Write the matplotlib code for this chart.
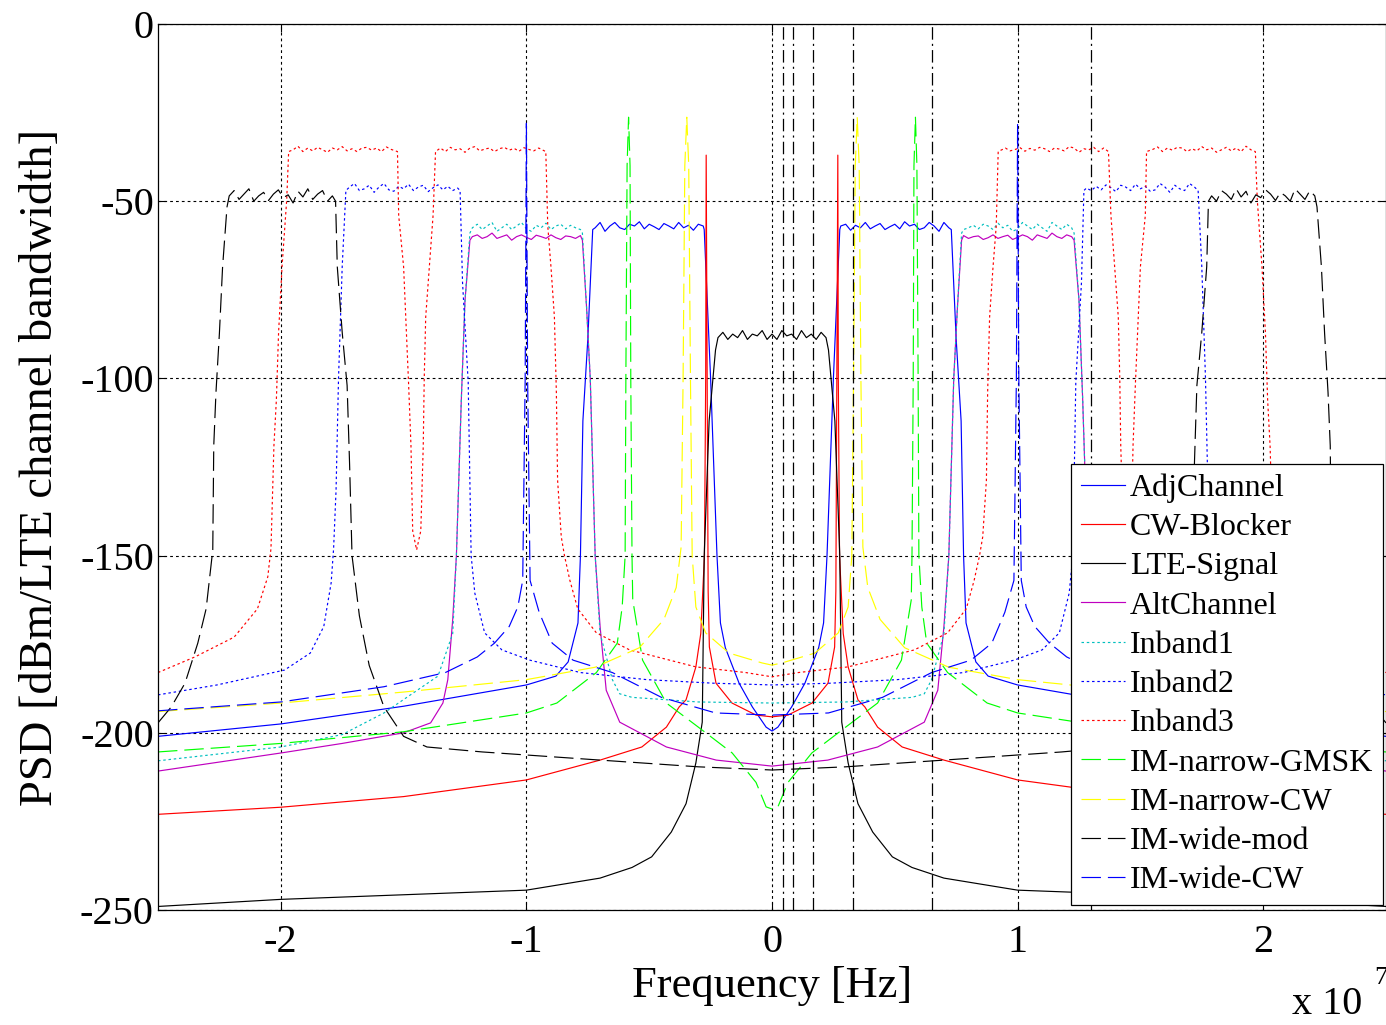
import numpy as np
import matplotlib
matplotlib.use('Agg')
import matplotlib.pyplot as plt

plt.rcParams['font.family'] = ['Liberation Serif', 'DejaVu Serif']
plt.rcParams['axes.unicode_minus'] = False
plt.rcParams['lines.scale_dashes'] = False

# Frequencies in MHz, PSD in dBm/LTE channel bandwidth.

# LTE-Signal
lte_f = [-25, -20, -10, -7.0, -5.7, -4.9, -4.1, -3.5, -3.1, -2.84, -2.76, -2.56, -2.3, -2.2,
         -2.0, -1.8, -1.6, -1.4, -1.2, -1.0, -0.8, -0.6, -0.4, -0.2, 0]
lte_p = [-249, -247, -244.4, -241, -238, -235, -228, -220, -208.5, -197, -150, -112, -92, -88.5,
         -87, -89, -87.5, -88.5, -86.5, -89, -87.5, -88, -86.5, -89, -87.5]

# CW-Blocker
cw_f = [-25, -20, -15, -10, -7.0, -5.3, -4.3, -3.78, -3.5, -3.1, -2.9, -2.75, -2.70, -2.68,
        -2.64, -2.60, -2.55, -2.28, -1.63, -0.65, 0]
cw_p = [-223, -221, -218, -213.3, -207.7, -204, -198.4, -192.7, -190.7, -181.4, -172, -150, -100, -37,
        -100, -160, -175.8, -186, -191.6, -195, -195.5]

# AdjChannel
adj_f = [-25, -20, -15, -10, -8.8, -8.3, -7.9, -7.8, -7.7, -7.5, -7.3,
         -7.2, -7.0, -6.8, -6.6, -6.4, -6.2, -6.0, -5.8, -5.6, -5.4, -5.2, -5.0,
         -4.8, -4.6, -4.4, -4.2, -4.0, -3.8, -3.6, -3.4, -3.2, -3.0, -2.8,
         -2.76, -2.5, -2.24, -2.1, -1.9, -1.34, -0.8, -0.24, 0]
adj_p = [-201, -197.5, -192.5, -186.5, -184, -180, -169, -150, -112, -89, -58,
         -57.5, -56, -58.5, -57, -56, -57.5, -58, -56.5, -57, -55.8, -57.8, -56.5,
         -57.2, -58, -56.3, -57, -57.8, -56, -57.5, -56.8, -58.2, -56.5, -57,
         -58, -100, -150, -169, -176, -186, -192.7, -198.4, -199.5]

# AltChannel
alt_f = [-25, -20, -17.5, -15, -13.9, -13.4, -13.2, -13.0, -12.85, -12.65, -12.5, -12.3,
         -12.2, -12.0, -11.8, -11.6, -11.4, -11.2, -11.0, -10.8, -10.6, -10.4, -10.2, -10.0,
         -9.8, -9.6, -9.4, -9.2, -9.0, -8.8, -8.6, -8.4, -8.2, -8.0, -7.8,
         -7.72, -7.55, -7.4, -7.2, -7.0, -6.75, -6.2, -4.3, -2.27, 0]
alt_p = [-210.8, -205.7, -203, -200, -197.2, -191.6, -185, -168, -150, -106, -78, -61,
         -60, -59.5, -60.5, -60, -59, -60.5, -60, -59.5, -61, -60, -59.5, -60.2,
         -60.8, -59.6, -60, -60.5, -59.5, -60.3, -60.8, -59.8, -60, -60.5, -59.7,
         -61, -80, -100, -150, -170, -188, -197, -204, -207.7, -209.4]

# Inband1
in1_f = [-25, -20, -17.5, -15.8, -13.6, -13.0, -12.85, -12.65, -12.5, -12.3,
         -12.2, -12.0, -11.8, -11.6, -11.4, -11.2, -11.0, -10.8, -10.6, -10.4, -10.2, -10.0,
         -9.8, -9.6, -9.4, -9.2, -9.0, -8.8, -8.6, -8.4, -8.2, -8.0, -7.8,
         -7.72, -7.55, -7.4, -7.2, -7.0, -6.5, -6.2, -5.7, -3.0, 0]
in1_p = [-207.9, -204, -200.5, -194.4, -184, -172, -150, -106, -78, -59,
         -57.5, -56.5, -58, -57, -56, -58.5, -57.5, -56.5, -58, -57, -56, -57.8,
         -58.5, -56.8, -57.5, -56.2, -58, -57, -56.5, -57.8, -56.8, -57.5, -58,
         -59, -80, -100, -150, -172, -185, -189, -190, -191.3, -191.6]

# Inband2
in2_f = [-25, -22.6, -19.85, -18.8, -18.25, -17.95, -17.85, -17.75, -17.65, -17.5, -17.35,
         -17.2, -17.0, -16.8, -16.6, -16.4, -16.2, -16.0, -15.8, -15.6, -15.4, -15.2, -15.0,
         -14.8, -14.6, -14.4, -14.2, -14.0, -13.8, -13.6, -13.4, -13.2, -13.0, -12.8,
         -12.7, -12.6, -12.37, -12.25, -12.1, -11.7, -11.0, -9.86, -7.8, -5.1, -2.4, 0]
in2_p = [-189.3, -186.5, -182.3, -177.5, -170, -157.7, -148, -131.5, -100, -68.5, -47,
         -46, -45, -47, -46.5, -45.5, -47.5, -46, -45, -46.8, -47.2, -45.8, -46.5,
         -45.2, -47, -46, -45.5, -47.3, -46.2, -45.4, -46.8, -45.8, -47, -46.3,
         -47, -73, -101, -150, -160.6, -171.8, -176.6, -179.5, -183, -185, -186, -186.5]

# Inband3 (two blocks per side)
in3_f = [-25, -23.5, -21.9, -20.95, -20.53, -20.4, -20.28, -20.18, -20.09, -19.95, -19.76, -19.68,
         -19.5, -19.3, -19.1, -18.9, -18.7, -18.5, -18.3, -18.1, -17.9, -17.7, -17.5,
         -17.3, -17.1, -16.9, -16.7, -16.5, -16.3, -16.1, -15.9, -15.7, -15.5,
         -15.25, -15.2, -15.0, -14.8, -14.7, -14.63, -14.47, -14.3, -14.2, -14.16, -14.1, -13.8, -13.7,
         -13.5, -13.3, -13.1, -12.9, -12.7, -12.5, -12.3, -12.1, -11.9, -11.7, -11.5,
         -11.3, -11.1, -10.9, -10.7, -10.5, -10.3, -10.1, -9.9, -9.7, -9.5,
         -9.21, -9.13, -9.0, -8.86, -8.78, -8.73, -8.58, -8.45, -8.23, -7.91, -7.15, -5.8, -3.1, -1.07, 0]
in3_p = [-183, -178.6, -173, -165, -156, -148, -119, -106, -87, -68.5, -49.7, -36,
         -35.5, -34.5, -36, -35, -35.8, -34.8, -35.5, -36.2, -35, -35.5, -34.6,
         -35.8, -35.2, -36, -35, -34.8, -35.6, -35, -36, -34.7, -35.4,
         -36, -54, -68.5, -101, -119, -143, -148.4, -143, -119, -100, -82.7, -54, -36,
         -35, -36, -34.8, -35.5, -35.2, -36.2, -35, -34.6, -35.8, -35.3, -35,
         -36, -35.2, -34.8, -35.6, -35.1, -35.9, -34.9, -35.4, -35.8, -35,
         -36, -57, -68.5, -82.7, -104, -128.7, -144.7, -150, -157, -165, -171.8, -176.6, -181.4, -183, -184.2]

# IM-narrow-GMSK
gm_f = [-25, -20, -15, -10, -8.76, -7.15, -6.3, -6.1, -5.98, -5.95, -5.9, -5.84,
        -5.78, -5.75, -5.70, -5.67, -5.27, -4.3, -3.0, -1.62, -0.65, -0.24, 0]
gm_p = [-205.4, -203, -199.7, -194.4, -191.6, -183, -174.7, -164.5, -150, -100, -40, -26.3,
        -40, -100, -150, -162.5, -179.5, -191.6, -198.4, -205.7, -214, -220.9, -221.5]

# IM-narrow-CW
ncw_f = [-25, -20, -15, -10, -7.2, -5.4, -4.4, -3.9, -3.7, -3.62, -3.55, -3.47,
         -3.39, -3.32, -3.25, -3.1, -2.7, -1.75, -0.4, 0]
ncw_p = [-194, -191.6, -188.5, -185, -181.5, -176, -168, -159, -147.6, -100, -40, -26.3,
         -40, -100, -150, -164.5, -171.8, -177.5, -180.3, -180.9]

# IM-wide-mod
wm_f = [-25, -24.46, -23.9, -23.38, -23.04, -22.77, -22.73, -22.64, -22.5, -22.37, -22.19, -22.1,
        -21.9, -21.7, -21.5, -21.3, -21.1, -20.9, -20.7, -20.5, -20.3, -20.1, -19.9,
        -19.7, -19.5, -19.3, -19.1, -18.9, -18.7, -18.5, -18.3, -18.1, -17.9,
        -17.77, -17.7, -17.5, -17.3, -17.2, -17.1, -16.8, -16.4, -15.8, -15.0, -14.05, -11.8, -7.0, -3.0, 0]
wm_p = [-197.2, -192.7, -186, -174.7, -165, -148.4, -119, -104, -87.3, -68.5, -51.6, -48.5,
        -47, -49.5, -48, -46.5, -50, -48.5, -47.5, -49.8, -48, -46.8, -49,
        -48.2, -50.5, -47.2, -48.8, -46.5, -49.5, -48, -47, -50, -48.5,
        -50, -68.5, -87, -102, -124, -150, -167, -181, -192.7, -201, -204, -205.4, -207.7, -209.6, -210.5]

# IM-wide-CW
wcw_f = [-25, -20, -15.8, -13.3, -12.0, -11.3, -10.7, -10.35, -10.15, -10.05, -10.0,
         -9.95, -9.85, -9.48, -8.95, -8.1, -6.5, -4.5, -2.3, 0]
wcw_p = [-193.8, -191.3, -187, -183, -178.6, -174.7, -170, -164.5, -157, -100, -28,
         -100, -157, -166, -174.7, -179.5, -183, -190, -194.4, -195]

# black marker lines (MHz)
marker_f = [0.45, 0.84, 1.65, 3.3, 6.5, 13.0]


def mirror(f, p):
    f = np.array(f, float)
    p = np.array(p, float)
    return np.concatenate([f, -f[-2::-1]]), np.concatenate([p, p[-2::-1]])


solid = '-'
dashed = (0, (14, 5))
dotted = (0, (1.8, 2.0))

series = [
    ('AdjChannel', adj_f, adj_p, 'b', solid),
    ('CW-Blocker', cw_f, cw_p, 'r', solid),
    ('LTE-Signal', lte_f, lte_p, 'k', solid),
    ('AltChannel', alt_f, alt_p, 'm', solid),
    ('Inband1', in1_f, in1_p, 'c', dotted),
    ('Inband2', in2_f, in2_p, 'b', dotted),
    ('Inband3', in3_f, in3_p, 'r', dotted),
    ('IM-narrow-GMSK', gm_f, gm_p, '#00ff00', dashed),
    ('IM-narrow-CW', ncw_f, ncw_p, '#ffff00', dashed),
    ('IM-wide-mod', wm_f, wm_p, 'k', dashed),
    ('IM-wide-CW', wcw_f, wcw_p, 'b', dashed),
]

fig = plt.figure(figsize=(13.86, 10.25), dpi=100)
ax = fig.add_axes([158 / 1386, 115 / 1025, 1228 / 1386, 886 / 1025])

for name, f, p, col, ls in series:
    ff, pp = mirror(f, p)
    ax.plot(ff / 10.0, pp, color=col, linestyle=ls, linewidth=0.85, label=name)

for f in marker_f:
    ax.axvline(f / 10.0, color='k', linewidth=0.9, linestyle=(0, (9, 3, 1.5, 3)))

ax.set_xlim(-2.5, 2.5)
ax.set_ylim(-250, 0)
ax.set_xticks([-2, -1, 0, 1, 2])
ax.set_yticks([-250, -200, -150, -100, -50, 0])
ax.grid(True, color='k', linestyle=(0, (2, 2.2)), linewidth=0.8)
ax.tick_params(direction='in', length=6, width=0.8, labelsize=29, top=True, right=True)
ax.tick_params(axis='x', pad=10)
ax.tick_params(axis='y', pad=3)
for s in ax.spines.values():
    s.set_linewidth(0.9)

ax.set_xlabel('Frequency [Hz]', fontsize=32, labelpad=4)
ax.set_ylabel('PSD [dBm/LTE channel bandwidth]', fontsize=33.5, labelpad=13)

fig.text(1292 / 1386, 1 - 1004 / 1025, 'x 10', fontsize=29, va='center', ha='left')
fig.text(1374 / 1386, 1 - 978 / 1025, '7', fontsize=19, va='center', ha='left')

leg = ax.legend(loc='lower right', bbox_to_anchor=(0.9976, 0.0056), borderaxespad=0,
                fontsize=23, handlelength=1.4, handletextpad=0.15, labelspacing=0.31,
                borderpad=0.3, fancybox=False, framealpha=1)
leg.get_frame().set_edgecolor('k')
leg.get_frame().set_linewidth(0.9)

fig.savefig('out.png', dpi=100)
